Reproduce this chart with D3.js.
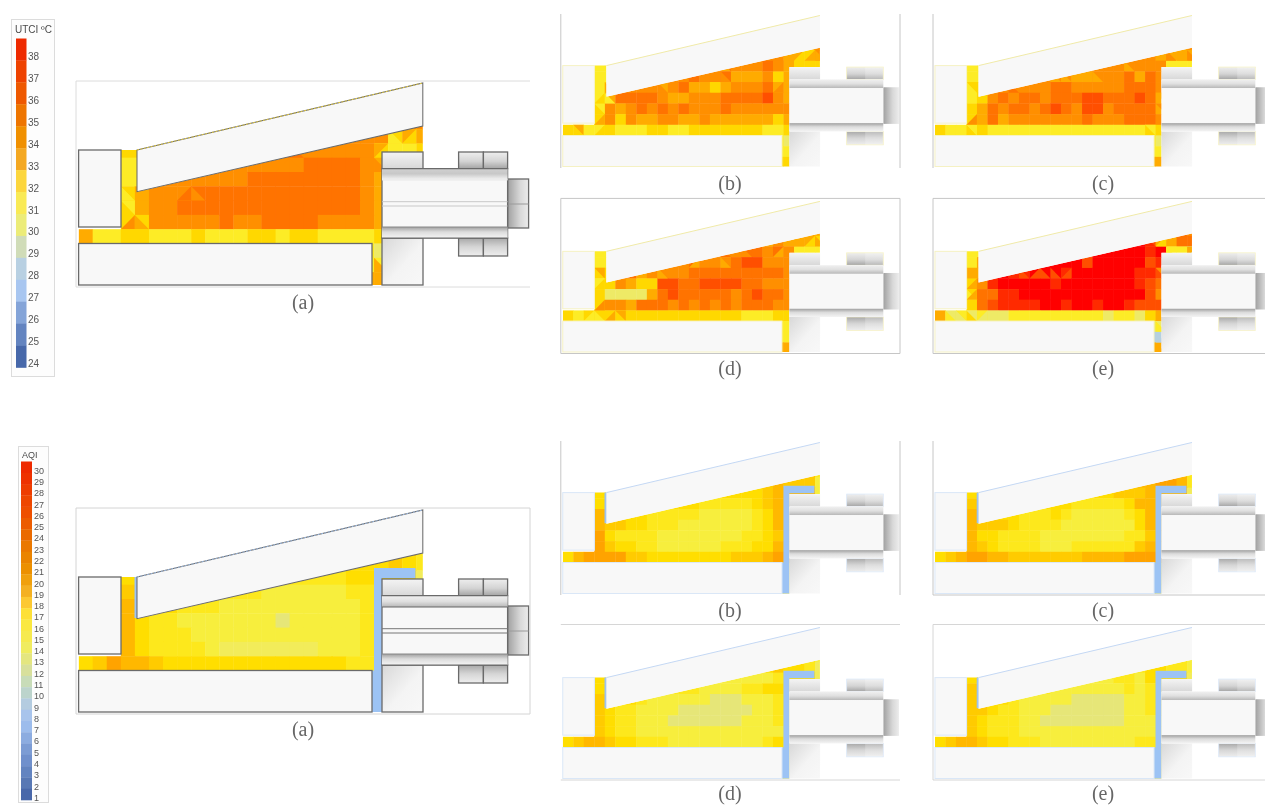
<!DOCTYPE html>
<html><head><meta charset="utf-8">
<script src="https://cdn.jsdelivr.net/npm/d3@7"></script>
<style>html,body{margin:0;background:#fff}svg{display:block}</style></head>
<body><div id="chart"></div>
<script>
// ---------- legends ----------
const utciTicks=[38,37,36,35,34,33,32,31,30,29,28,27,26,25,24];
const utciLegendColors=["#ee2c00","#ee4200","#ee5800","#ee7400","#f09000","#f4a824","#fcd63c","#f9ea54","#ecec78","#d0dcb8","#b8d0e2","#a8c6f0","#84a4d8","#6484c0","#4668aa"];
const aqiTicks=d3.range(30,0,-1);
const aqiLegendColors=["#ee2a00","#ee3300","#ee3c00","#ee4600","#ee5000","#ec5c00","#ea6a00","#ea7800","#ea8400","#ec9000","#f0a010","#f4b020","#fcc830","#fde038","#fae840","#f6ea50","#f0ec60","#e4e680","#d8e09c","#c8dcb8","#bcd4cc","#b4cce0","#a8c4ec","#9cbcec","#8cace0","#7c9cd4","#7090cc","#6484c0","#5878b4","#4868aa"];
// ---------- field colours ----------
const utciLevels=[28,29,30,31,32,33,34,35,36,37,38];
const utciColors=["#b5d0e0","#d0dcb0","#eeea66","#fdec26","#ffd800","#ffab00","#ff8f00","#ff7300","#ff5000","#ff2a00","#ff0000"];
const aqiLevels=[13,14,15,16,17,18,19,20];
const aqiColors=["#e6e678","#f2ec5a","#f7ee3e","#fde81c","#ffde00","#ffcb00","#ffb800","#ffa300"];
// ---------- cell values (top row to bottom row, see rowStart) ----------
const rowStart=[23,19,3,3,3,3,3,3,0,20,20,20];
const utciA=[[34,34],[34,34,34,32,33,33],
[32,32,34,34,34,34,34,34,34,34,34,34,34,34,34,34,34,34,32,31,31,32],
[31,31,34,34,34,34,34,34,34,34,34,34,34,35,35,35,35,34,33],
[31,31,34,34,34,34,34,34,34,35,35,35,35,35,35,35,35,34,33],
[32,33,34,34,34,35,35,35,35,35,35,35,35,35,35,35,35,34,33],
[32,33,34,34,35,35,35,35,35,35,35,35,35,35,35,35,35,34,33],
[32,32,34,34,34,34,34,35,34,34,35,35,35,35,34,34,34,34,33],
[33,31,31,32,32,31,31,31,32,31,31,31,32,32,31,32,32,31,31,31,31,32],
[31,30],[31,31],[33,33]];
const utciB=[[33,34],[34,34,33,32,32,34],
[31,31,34,34,34,34,34,34,34,34,34,34,35,34,34,34,35,34,33,32,32,32],
[31,31,34,34,34,34,34,34,34,35,34,34,35,33,33,33,34,32,33],
[31,32,34,34,34,34,34,34,35,33,33,32,33,34,34,34,35,33,33],
[31,33,35,35,35,35,34,33,33,34,34,34,35,35,35,35,36,34,33],
[32,34,33,34,35,34,35,34,35,34,34,34,35,34,34,34,34,34,34],
[32,34,32,34,33,33,34,34,33,33,34,33,33,33,33,33,33,32,33],
[32,31,31,31,32,31,31,31,32,32,31,31,32,32,32,32,32,32,32,31,31,32],
[31,30],[31,31],[32,32]];
const utciC=[[33,34],[34,34,33,33,33,33],
[31,31,34,34,34,34,34,34,34,34,34,34,34,34,34,34,34,34,34,31,31,31],
[31,31,34,34,34,34,34,34,34,34,33,33,34,34,34,35,33,35,34],
[31,32,34,34,34,34,34,34,35,35,34,34,34,34,34,35,35,35,34],
[31,32,34,35,34,35,35,34,35,35,35,36,36,35,35,35,36,35,33],
[32,33,35,34,35,35,34,35,36,35,34,36,36,34,35,35,35,35,33],
[32,33,35,33,34,34,34,34,34,34,34,35,34,34,34,35,35,35,34],
[32,31,31,31,32,31,31,31,31,31,31,31,31,31,31,31,31,31,31,31,32,32],
[31,30],[31,31],[33,33]];
const utciD=[[33,33],[33,34,33,33,33,32],
[31,31,34,34,34,34,34,34,34,34,34,34,34,34,35,35,34,35,34,31,31,31],
[31,31,34,34,34,34,34,34,34,35,34,34,34,35,36,36,34,34,34],
[32,32,34,35,33,34,34,34,34,35,35,35,35,35,35,35,35,35,34],
[31,32,34,33,32,32,36,36,35,35,36,36,36,36,35,35,34,34,34],
[32,30,30,30,30,33,35,36,35,35,35,35,35,34,35,36,35,35,34],
[32,34,34,33,35,35,35,34,35,34,35,34,35,34,35,35,35,34,34],
[32,31,32,32,32,32,32,32,32,32,32,32,32,32,32,32,32,31,31,31,32,32],
[31,31],[31,31],[33,33]];
const utciE=[[35,34],[38,36,33,33,35,35],
[31,31,38,38,38,38,38,38,38,38,38,37,38,38,38,38,38,37,38,31,31,29],
[31,33,38,38,38,38,38,38,38,38,38,36,38,38,38,38,38,36,37],
[33,33,38,38,37,37,38,38,38,37,38,38,38,38,38,38,37,37,36],
[33,34,37,38,38,38,38,38,37,38,38,38,38,38,38,38,37,36,35],
[31,35,35,37,37,38,38,38,38,38,38,38,38,38,38,38,38,36,34],
[32,35,36,37,37,37,37,38,38,37,38,38,37,38,38,37,36,36,36],
[33,30,31,30,31,30,30,31,31,31,31,31,31,31,31,31,30,31,31,30,32,33],
[30,30],[28,28],[33,33]];
// triangles: [row, column, right-angle corner 0-3, value]
const utciTriA=[[7,3,2,34],[7,4,3,33],[8,3,1,32],[8,4,0,32],[6,3,1,31],[5,3,3,31],[5,7,2,35],[5,8,3,34],[3,14,2,34],[3,15,3,34],[2,15,3,35],[2,14,2,35],[1,22,3,31],[1,23,2,32],[10,21,3,33],[2,21,0,33],[3,21,3,34]];
const utciTriB=[[8,1,3,32],[8,1,1,33],[8,2,3,31],[8,3,2,32],[7,3,2,33],[6,3,1,31],[5,3,2,32],[5,4,3,31],[4,4,3,33],[3,15,3,34],[2,15,0,34],[2,15,3,33],[4,9,1,33],[3,19,2,34],[1,22,0,33],[1,23,2,33],[1,24,3,33],[4,20,2,34],[2,20,2,34]];
const utciTriC=[[8,3,3,32],[8,4,2,32],[8,3,1,31],[7,3,2,34],[4,3,1,32],[4,6,0,35],[4,7,3,35],[3,12,3,33],[3,11,3,33],[3,13,3,33],[3,15,3,33],[2,18,3,33],[2,19,3,34],[1,22,3,34],[1,23,2,33],[1,24,3,34],[5,21,1,33],[6,21,1,34],[8,20,1,31]];
const utciTriD=[[8,1,3,31],[8,2,2,31],[8,3,3,31],[8,4,2,33],[8,5,1,33],[7,3,2,34],[5,3,2,32],[4,3,1,33],[3,12,2,33],[3,15,3,33],[2,15,3,35],[2,17,3,34],[2,19,3,34],[2,20,2,33],[1,22,3,33],[1,23,2,32],[1,24,3,33],[4,9,3,33]];
const utciTriE=[[8,1,3,31],[8,2,3,30],[8,3,3,32],[8,4,2,30],[4,3,2,33],[5,3,0,32],[6,3,1,32],[6,3,2,33],[3,14,3,36],[4,11,3,36],[4,12,2,36],[4,10,3,36],[4,8,3,36],[4,9,2,36],[1,21,2,32],[1,20,3,37],[2,22,3,31],[10,21,3,28],[9,21,3,31],[11,21,3,33],[4,21,1,34],[2,24,0,33]];
const aqiA=[[18,16],[17,17,17,18,17,16],
[17,17,16,16,16,16,16,16,16,16,16,16,16,16,16,16,17,17,17,17,17,14],
[18,18,16,16,16,16,16,16,16,16,15,15,15,15,15,15,16,16,17],
[19,19,17,17,16,16,16,15,15,15,15,15,15,15,15,15,15,16,17],
[19,17,16,16,15,15,15,15,15,15,15,13,15,15,15,15,15,16,17],
[19,17,16,16,16,15,15,15,15,15,15,15,15,15,15,15,15,16,17],
[19,17,16,16,16,16,15,14,14,14,14,14,14,14,15,15,15,16,17],
[17,18,20,19,19,18,17,17,17,17,17,17,17,17,17,17,17,17,17,16,16,16],
[16,16],[16,16],[16,16]];
const aqiB=[[18,16],[18,19,18,18,18,15],
[17,17,17,17,17,17,17,17,17,17,17,17,17,17,17,17,18,19,19,19,19,15],
[17,18,17,17,17,17,17,17,17,17,16,16,16,16,16,17,18,19,19],
[19,19,17,17,17,16,16,16,16,16,15,15,15,15,15,16,17,19,19],
[19,18,18,17,17,16,16,16,15,15,15,15,15,15,15,16,17,19,19],
[20,17,16,16,16,16,15,15,15,15,15,15,15,15,16,16,17,18,19],
[20,18,17,17,16,16,15,15,15,15,15,15,16,16,16,17,17,19,19],
[17,19,20,20,20,20,18,18,17,17,17,17,17,17,17,17,18,18,18,19,20,20],
[16,16],[16,16],[16,16]];
const aqiC=[[18,16],[19,19,20,20,19,16],
[17,17,17,17,17,17,17,17,17,17,17,17,17,17,18,18,18,19,19,19,19,14],
[18,18,17,17,17,17,17,17,17,17,16,16,16,16,16,17,19,19,19],
[19,19,18,17,17,16,16,16,17,16,15,15,15,15,15,16,17,19,19],
[19,18,18,18,17,16,16,16,16,15,15,15,15,15,15,15,17,19,19],
[19,17,17,16,16,16,16,15,15,15,15,15,15,15,15,16,16,18,19],
[19,18,17,16,16,16,16,15,15,15,16,16,16,16,16,16,18,19,19],
[17,18,19,20,20,19,19,18,18,18,18,18,18,18,19,19,19,19,20,20,20,20],
[16,16],[16,16],[16,16]];
const aqiD=[[16,15],[17,18,17,17,16,14],
[17,17,16,16,16,16,16,16,16,16,16,15,15,15,15,15,15,16,17,17,17,14],
[17,17,16,16,16,16,16,16,16,16,15,15,15,15,16,16,17,17,17],
[18,18,17,17,16,15,15,15,15,15,15,13,13,13,15,15,15,16,17],
[18,17,16,16,15,15,15,15,13,13,13,13,13,13,13,15,15,16,17],
[18,17,16,16,15,15,15,13,13,13,13,13,13,13,15,15,15,16,16],
[18,17,16,16,15,15,15,15,15,15,15,15,15,15,15,15,15,15,16],
[17,18,19,19,18,17,17,16,16,16,15,15,15,15,15,15,15,15,15,16,17,16],
[16,16],[16,16],[16,16]];
const aqiE=[[16,15],[16,17,17,16,16,15],
[17,17,16,16,16,16,16,16,16,16,16,15,15,15,16,16,15,17,17,17,17,14],
[18,18,16,16,16,16,16,16,15,15,15,15,15,15,15,16,15,16,17],
[18,18,17,17,16,15,15,15,15,15,13,13,13,13,13,15,15,16,17],
[18,18,17,16,16,15,15,15,13,13,13,13,13,13,13,15,15,16,17],
[18,17,16,16,16,15,15,13,13,13,13,13,13,13,13,15,15,15,16],
[18,17,16,16,16,15,15,15,15,15,15,15,15,15,15,15,15,15,16],
[17,18,19,19,18,17,17,16,16,16,15,15,15,15,15,15,15,15,15,16,16,16],
[16,16],[16,16],[16,16]];
const panelLabels=["(a)","(b)","(c)","(d)","(e)"];

// ---------- section geometry (units of the large panel) ----------
const cellW=14.07,cellH=14.3,gridX=78.6,gridBottom=243.5;
const fluid=[[121,150],[137,150],[137,191.7],[422.8,126],[422.8,152],[382,152],[382,285],[372,285],[372,243.5],[78.6,243.5],[78.6,227],[121,227]];
const roof=[[137,150],[422.8,83],[422.8,126],[137,191.7]];
const blueWall=[[374,141],[415.5,141],[415.5,151],[382,151],[382,285],[372,285],[372,243.5],[374,243.5]];

const W=1265,H=805;
const svg=d3.select("#chart").append("svg").attr("width",W).attr("height",H);
const defs=svg.append("defs");
defs.append("filter").attr("id","soft").attr("x","-2%").attr("y","-2%").attr("width","104%").attr("height","104%")
  .append("feGaussianBlur").attr("stdDeviation",0.45);
function grad(id,stops,x2=0,y2=1){
  const g=defs.append("linearGradient").attr("id",id).attr("x1",0).attr("y1",0).attr("x2",x2).attr("y2",y2);
  stops.forEach(s=>g.append("stop").attr("offset",s[0]).attr("stop-color",s[1]));
}
grad("bandTop",[[0,"#f0f0f0"],[0.5,"#e0e0e0"],[1,"#b8b8b8"]]);
grad("bandTopA",[[0,"#d0d0d0"],[0.45,"#c8c8c8"],[1,"#f6f6f6"]]);
grad("bandBot",[[0,"#a0a0a0"],[0.45,"#dcdcdc"],[1,"#f4f4f4"]]);
grad("nubUp",[[0,"#eeeeee"],[0.55,"#d4d4d4"],[1,"#a4a4a4"]]);
grad("nubDown",[[0,"#a8a8a8"],[0.5,"#d6d6d6"],[1,"#eeeeee"]]);
grad("cap",[[0,"#a0a0a0"],[0.6,"#d8d8d8"],[1,"#ececec"]],1,0);
grad("colTop",[[0,"#f4f4f4"],[1,"#d8d8d8"]]);
grad("colLow",[[0,"#d8d8d8"],[0.55,"#f4f4f4"],[1,"#f8f8f8"]],1,1);

const root=svg.append("g").attr("filter","url(#soft)");

// ---------- legends ----------
function legend(title,ticks,colors,box,bar,tx,titleY,size,labelFrac){
  const g=root.append("g");
  g.append("rect").attr("x",box[0]).attr("y",box[1]).attr("width",box[2]).attr("height",box[3]).attr("fill","#fdfdfd").attr("stroke","#dcdcdc");
  g.append("text").attr("x",box[0]+3.5).attr("y",titleY).attr("font-family","Liberation Sans").attr("font-size",size).attr("fill","#4a4a4a").text(title);
  const y=d3.scaleBand().domain(ticks).range([bar[1],bar[2]]);
  g.selectAll("rect.b").data(ticks).join("rect").attr("class","b").attr("x",bar[0]).attr("width",bar[3])
    .attr("y",d=>y(d)).attr("height",y.bandwidth()+0.3).attr("fill",(d,i)=>colors[i]);
  g.selectAll("text.t").data(ticks).join("text").attr("class","t").attr("x",tx)
    .attr("y",d=>y(d)+y.bandwidth()*labelFrac).attr("dy","0.35em").attr("font-family","Liberation Sans").attr("font-size",size).attr("fill","#555").text(d=>d);
}
legend("UTCI ºC",utciTicks,utciLegendColors,[11.5,19.5,43,357],[16,38.5,367.5,10.5],28,33,10,0.82);
legend("AQI",aqiTicks,aqiLegendColors,[18.5,446.5,30,356],[21,461.5,800,11],34,458,9,0.8);

// ---------- panels ----------
const line=d3.line();
function panel(o){
  const x=d3.scaleLinear([76,530],o.xr), y=d3.scaleLinear([81,287],o.yr);
  const pts=a=>line(a.map(p=>[x(p[0]),y(p[1])]))+"Z";
  const g=root.append("g");
  const fieldColor=d3.scaleOrdinal(o.levels,o.colors);
  const clipId="clip"+o.id;
  defs.append("clipPath").attr("id",clipId).append("path").attr("d",pts(fluid));
  const colX=d3.scaleLinear([0,25],[gridX,gridX+25*cellW]);
  const rowY=d3.scaleLinear([0,9],[gridBottom-9*cellH,gridBottom]);
  const field=g.append("g").attr("clip-path",`url(#${clipId})`);
  const cells=o.values.flatMap((row,i)=>row.map((v,j)=>({i,c:rowStart[i]+j,v})));
  field.selectAll("rect").data(cells).join("rect")
    .attr("x",d=>x(colX(d.c))).attr("y",d=>y(rowY(d.i)))
    .attr("width",d=>x(colX(d.c+1))-x(colX(d.c))+0.4).attr("height",d=>y(rowY(d.i+1))-y(rowY(d.i))+0.4)
    .attr("fill",d=>fieldColor(d.v));
  if(o.tris) field.selectAll("path").data(o.tris).join("path")
    .attr("d",t=>{
      const x0=colX(t[1]),x1=colX(t[1]+1),y0=rowY(t[0]),y1=rowY(t[0]+1);
      const c=[[x0,y0],[x1,y0],[x1,y1],[x0,y1]];
      return pts(c.filter((p,k)=>k!==(t[2]+2)%4));
    }).attr("fill",t=>fieldColor(t[3]));

  const ol=o.outline, sw=o.sw;
  const rect=(a,b,c,d,fill,stroke=ol,w=sw)=>g.append("rect").attr("x",x(a)).attr("y",y(b)).attr("width",x(c)-x(a)).attr("height",y(d)-y(b)).attr("fill",fill).attr("stroke",stroke).attr("stroke-width",w);
  if(o.blue){
    g.append("path").attr("d",pts(blueWall)).attr("fill","#9cc3f4");
    g.append("path").attr("d",pts([[134.5,150],[137.5,150],[137.5,191],[134.5,191]])).attr("fill","#9cc3f4");
  }
  // solid parts
  rect(78.6,150,121,227,"#f8f8f8");
  rect(78.6,243.5,372,285,"#f8f8f8");
  g.append("path").attr("d",pts(roof)).attr("fill","#f8f8f8").attr("stroke",o.big?ol:"none").attr("stroke-width",sw*0.8);
  g.append("line").attr("x1",x(137)).attr("y1",y(150)).attr("x2",x(422.8)).attr("y2",y(83)).attr("stroke",o.edge).attr("stroke-width",1).attr("stroke-dasharray",o.big?"2 1.5":null);
  rect(382,238,423,285,"url(#colLow)",o.big?ol:"none");
  rect(382,152,423,168.7,"url(#colTop)",o.big?ol:"none");
  if(o.big){
    [458.6,483.4].forEach((a,i)=>{
      rect(a,152,i?507.6:483.4,168.7,"url(#nubUp)");
      rect(a,238,i?507.6:483.4,256,"url(#nubDown)");
    });
  } else {
    rect(458.6,152,507.6,168.7,"url(#nubUp)",ol,0.8);
    rect(458.6,238,507.6,256,"url(#nubDown)",ol,0.8);
    [[483.4,152,507.6,168.7],[483.4,238,507.6,256]].forEach(r=>rect(r[0],r[1],r[2],r[3],"rgba(255,255,255,0.22)","none",0));
  }
  rect(507.6,179,528.6,228,"url(#cap)",o.big?ol:"none");
  if(o.big) g.append("line").attr("x1",x(507.6)).attr("x2",x(528.6)).attr("y1",y(204)).attr("y2",y(204)).attr("stroke","#9a9a9a");
  rect(382,168.7,507.6,238,"#f8f8f8",o.big?ol:"none");
  g.append("rect").attr("x",x(382)).attr("y",y(168.7)).attr("width",x(507.6)-x(382)).attr("height",y(180)-y(168.7)).attr("fill",o.id==="ua"?"url(#bandTopA)":"url(#bandTop)");
  g.append("rect").attr("x",x(382)).attr("y",y(227)).attr("width",x(507.6)-x(382)).attr("height",y(238)-y(227)).attr("fill","url(#bandBot)");
  if(o.big){
    const hl=(v,c,w)=>g.append("line").attr("x1",x(382)).attr("x2",x(507.6)).attr("y1",y(v)).attr("y2",y(v)).attr("stroke",c).attr("stroke-width",w);
    hl(168.7,"#6a6a6a",1.2);hl(238,"#6a6a6a",1.2);hl(227,"#888",1);
    hl(180,o.id==="ua"?"#e8e8e8":"#666",1);
    hl(201.7,o.id==="ua"?"#c8c8c8":"#777",1);hl(206,o.id==="ua"?"#c8c8c8":"#777",1);
  }
  // frame
  const fr=(a,b,c,d)=>g.append("line").attr("x1",a).attr("y1",b).attr("x2",c).attr("y2",d).attr("stroke",o.frame||"#c6c6c6").attr("stroke-width",1);
  const [l,r]=o.xr,[t,b]=[y(o.ft),y(o.fb)];
  if(o.sides.includes("t"))fr(l,t,r,t);
  if(o.sides.includes("b"))fr(l,b,r,b);
  if(o.sides.includes("l"))fr(l,t,l,b);
  if(o.sides.includes("r"))fr(r,t,r,b);
  // caption
  root.append("text").attr("x",o.cap[0]).attr("y",o.cap[1]).attr("text-anchor","middle").attr("font-family","Liberation Serif").attr("font-size",20).attr("fill","#666").text(o.label);
}
const u={levels:utciLevels,colors:utciColors,outline:"#f6f2c4",sw:1,edge:"#f0eaa8"};
const q={levels:aqiLevels,colors:aqiColors,outline:"#dbe8f8",sw:1,edge:"#c4d8f4",blue:true};
const xs1=[560.8,900],xs2=[933,1272];
panel({...u,id:"ua",big:true,outline:"#6a6a6a",sw:1.3,edge:"#e0c840",xr:[76,530],yr:[81,287],ft:81,fb:287,sides:"tbl",frame:"#dcdcdc",values:utciA,tris:utciTriA,label:panelLabels[0],cap:[303,309]});
panel({...u,id:"ub",xr:xs1,yr:[14,168],ft:81,fb:287,sides:"lr",values:utciB,tris:utciTriB,label:panelLabels[1],cap:[730,190]});
panel({...u,id:"uc",xr:xs2,yr:[14,168],ft:81,fb:287,sides:"l",values:utciC,tris:utciTriC,label:panelLabels[2],cap:[1103,190]});
panel({...u,id:"ud",xr:xs1,yr:[199.9,353.5],ft:79,fb:287,sides:"tblr",values:utciD,tris:utciTriD,label:panelLabels[3],cap:[730,375]});
panel({...u,id:"ue",xr:xs2,yr:[199.9,353.5],ft:79,fb:287,sides:"tbl",values:utciE,tris:utciTriE,label:panelLabels[4],cap:[1103,375]});
panel({...q,id:"qa",big:true,outline:"#6a6a6a",sw:1.3,edge:"#9ab8e0",xr:[76,530],yr:[508,714],ft:81,fb:287,sides:"tblr",frame:"#d4d4d4",values:aqiA,label:panelLabels[0],cap:[303,736]});
panel({...q,id:"qb",xr:xs1,yr:[441,595],ft:81,fb:287,sides:"lr",values:aqiB,label:panelLabels[1],cap:[730,617]});
panel({...q,id:"qc",xr:xs2,yr:[441,595],ft:81,fb:287,sides:"lb",values:aqiC,label:panelLabels[2],cap:[1103,617]});
panel({...q,id:"qd",xr:xs1,yr:[626,780],ft:79,fb:287,sides:"tb",frame:"#d6d6d6",values:aqiD,label:panelLabels[3],cap:[730,800]});
panel({...q,id:"qe",xr:xs2,yr:[626,780],ft:79,fb:287,sides:"tbl",frame:"#d6d6d6",values:aqiE,label:panelLabels[4],cap:[1103,800]});
</script></body></html>
